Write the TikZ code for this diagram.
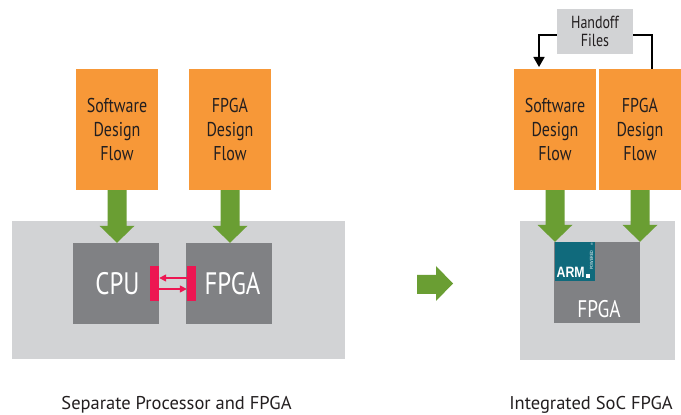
\documentclass[tikz,border=0pt]{standalone}
\usepackage{fontspec}
\setmainfont{PT Sans}
\newfontfamily\condfont[FakeStretch=0.8]{PT Sans}
\newfontfamily\armfont[FakeStretch=0.82]{Liberation Sans}
\usetikzlibrary{arrows.meta,calc}
\definecolor{orangebox}{RGB}{247,152,56}
\definecolor{greenarr}{RGB}{106,158,51}
\definecolor{lightbg}{RGB}{210,211,213}
\definecolor{darkbox}{RGB}{128,129,132}
\definecolor{redbar}{RGB}{237,22,82}
\definecolor{armteal}{RGB}{16,106,124}
\definecolor{txtdark}{RGB}{35,31,32}
\newcommand\grnarrow[2]{%
  \fill[greenarr] let \p1=(#1.south), \p2=(#2.north) in
    (\x1-9.5pt,\y1) -- (\x1-9.5pt,\y2+17pt) -- (\x1-17.5pt,\y2+17pt) -- (\x1,\y2)
    -- (\x1+17.5pt,\y2+17pt) -- (\x1+9.5pt,\y2+17pt) -- (\x1+9.5pt,\y1) -- cycle;}
\begin{document}
\begin{tikzpicture}[x=1pt,y=1pt,
  flowbox/.style={fill=orangebox, inner sep=0, minimum width=82pt, minimum height=121pt,
    align=center, text=txtdark, font=\condfont\fontsize{20}{23.7}\selectfont},
  chip/.style={fill=darkbox, inner sep=0, minimum width=86pt, minimum height=81pt,
    text=white, font=\condfont\fontsize{31}{31}\selectfont},
  panel/.style={fill=lightbg, inner sep=0},
  bar/.style={fill=redbar, inner sep=0, minimum width=9pt, minimum height=35pt},
  redlink/.style={draw=redbar, line width=1.5pt, -{Triangle[length=7pt,width=7pt]}},
  handoffbox/.style={fill=lightbg, inner sep=0, minimum width=76pt, minimum height=45pt,
    align=center, text=txtdark, font=\condfont\fontsize{17.5}{18.3}\selectfont},
  feed/.style={draw=black, line width=1.6pt},
  caption/.style={font=\fontsize{18.5}{20}\selectfont, text=txtdark, anchor=base, inner sep=0}]
\useasboundingbox (0,0) rectangle (681,415);
\fill[white] (0,0) rectangle (681,415);
% left panel
\node[panel, minimum width=333pt, minimum height=138pt] (bgL) at (178.5,125) {};
\node[flowbox] (swL) at (117,285.5) {Software\\Design\\Flow};
\node[flowbox] (fpL) at (230,285.5) {FPGA\\Design\\Flow};
\node[chip] (cpu) at (116,131.5) {\hspace*{3pt}CPU};
\node[chip] (fpgaL) at (229,131.5) {\hspace*{7pt}FPGA};
\node[bar] (barL) at (154.5,131.5) {};
\node[bar] (barR) at (191.5,131.5) {};
\draw[redlink] ([yshift=5.5pt]barR.west) -- ([yshift=5.5pt]barL.east);
\draw[redlink] ([yshift=-5.5pt]barL.east) -- ([yshift=-5.5pt]barR.west);
\grnarrow{swL}{cpu}
\grnarrow{fpL}{fpgaL}
% middle arrow
\fill[greenarr] (417,140) -- (436,140) -- (436,149) -- (453,131.5) -- (436,114) -- (436,121) -- (417,121) -- cycle;
% right panel
\node[panel, minimum width=155pt, minimum height=139pt] (bgR) at (597.5,124.5) {};
\node[flowbox] (swR) at (555,285.5) {Software\\Design\\Flow};
\node[flowbox] (fpR) at (640,285.5) {FPGA\\Design\\Flow};
\node[chip] (fpgaR) at (597,132.5) {};
\node[text=white, font=\condfont\fontsize{24}{24}\selectfont, inner sep=0] (fpgaRlabel) at (599,106) {FPGA};
\node[fill=armteal, minimum width=40pt, minimum height=39pt, inner sep=0] (arm) at (575,153.5) {};
\node[anchor=base west, font=\armfont\bfseries\fontsize{15}{15}\selectfont, text=white, inner sep=0] (armtxt) at (556.5,137) {ARM};
\node[fill=white, minimum size=4pt, inner sep=0, anchor=south west] (armdot) at (586,137) {};
\node[rotate=90, anchor=base west, font=\armfont\fontsize{4.5}{5}\selectfont, text=white, inner sep=0] (powered) at (593,145) {POWERED};
\node[font=\armfont\fontsize{3.5}{4}\selectfont, text=white, inner sep=0] (reg) at (592,171) {®};
\grnarrow{swR}{fpgaR}
\grnarrow{fpR}{fpgaR}
\node[handoffbox] (ho) at (595,383.5) {Handoff\\Files};
\coordinate (hl) at (539,346);
\coordinate (hr) at (652,346);
\draw[feed, -{Triangle[width=11pt,length=10pt]}, shorten >=2pt] ([yshift=-3.5pt]ho.west) -| (hl);
\draw[feed] ([yshift=-3.5pt]ho.east) -| (hr);
% captions
\node[caption] (capL) at (176.5,5) {Separate Processor and FPGA};
\node[caption] (capR) at (591,5) {Integrated SoC FPGA};
\end{tikzpicture}
\end{document}
